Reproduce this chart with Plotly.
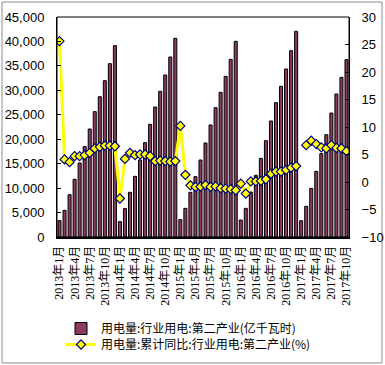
import plotly.graph_objects as go

years = [2013, 2014, 2015, 2016, 2017]
months_per_year = [12, 12, 12, 12, 10]
categories = [f"{y}年{m}月" for y, n in zip(years, months_per_year) for m in range(1, n + 1)]

power_2013 = [3340, 5460, 8660, 11800, 15140, 18480, 22090, 25640, 28700, 31980, 35450, 39140]
power_2014 = [3140, 5800, 9140, 12410, 15750, 19300, 23050, 26590, 29800, 33140, 36820, 40640]
power_2015 = [3550, 5860, 9140, 12340, 15750, 19230, 22910, 26450, 29590, 32860, 36340, 40020]
power_2016 = [3480, 5860, 9200, 12610, 16090, 19700, 23730, 27480, 30820, 34360, 38110, 42070]
power_2017 = [3340, 6270, 9950, 13430, 17050, 20930, 25360, 29250, 32660, 36270]
power = power_2013 + power_2014 + power_2015 + power_2016 + power_2017

yoy_2013 = [25.6, 4.1, 3.6, 4.7, 4.7, 4.9, 5.3, 6.1, 6.4, 6.6, 6.6, 6.5]
yoy_2014 = [-3.0, 4.2, 5.3, 4.9, 5.0, 5.0, 4.7, 3.8, 3.9, 3.8, 3.7, 3.8]
yoy_2015 = [10.2, 1.3, -0.6, -0.9, -0.85, -0.55, -0.9, -0.8, -1.1, -1.2, -1.3, -1.5]
yoy_2016 = [-0.3, -2.1, 0.1, 0.1, 0.2, 0.5, 1.5, 1.9, 1.9, 2.2, 2.6, 2.9]
yoy_2017 = [None, 6.7, 7.5, 6.9, 6.3, 6.1, 6.7, 6.2, 6.1, 5.6]
yoy = yoy_2013 + yoy_2014 + yoy_2015 + yoy_2016 + yoy_2017

tick_labels = categories[::3]

bar_name = "用电量:行业用电:第二产业(亿千瓦时)"
line_name = "用电量:累计同比:行业用电:第二产业(%)"

W, H = 385, 365
L, R, T, B = 57, 36, 17, 128
pw, ph = W - L - R, H - T - B

def px_x(x):
    return (x - L) / pw

def px_y(y):
    return (H - B - y) / ph

fig = go.Figure()
fig.add_trace(go.Bar(
    x=categories, y=power, name=bar_name,
    marker=dict(color="#8B3A62", line=dict(color="#000000", width=1)),
    yaxis="y", legend="legend",
))
fig.add_trace(go.Scatter(
    x=categories, y=yoy, name=line_name, mode="lines+markers",
    connectgaps=False,
    line=dict(color="#FFFF00", width=3),
    marker=dict(symbol="diamond", size=7, color="#FFFF00",
                line=dict(color="#000080", width=1.2)),
    yaxis="y2", legend="legend2",
))

num_font = dict(family="Liberation Sans, Arial, sans-serif", size=13, color="#000000")
leg_font = dict(family="Noto Sans CJK SC, sans-serif", size=12, color="#000000")

fig.update_layout(
    width=W, height=H,
    autosize=False,
    margin=dict(l=L, r=R, t=T, b=B, pad=0, autoexpand=False),
    paper_bgcolor="#FFFFFF",
    plot_bgcolor="#FFFFFF",
    bargap=0.4,
    showlegend=True,
    legend=dict(
        x=px_x(61), y=px_y(314), xanchor="left", yanchor="top",
        font=leg_font, bgcolor="rgba(0,0,0,0)",
    ),
    legend2=dict(
        x=px_x(61), y=px_y(330), xanchor="left", yanchor="top",
        font=leg_font, bgcolor="rgba(0,0,0,0)",
    ),
    xaxis=dict(
        type="category",
        range=[-0.5, len(categories) - 0.5],
        tickmode="array",
        tickvals=tick_labels,
        ticktext=tick_labels,
        tickangle=-90,
        tickfont=dict(family="Liberation Serif, Noto Sans CJK SC, serif", size=12, color="#000000"),
        showgrid=False,
        showline=True, linecolor="#000000", linewidth=2,
        ticks="", zeroline=False,
        ticklabelstandoff=2,
    ),
    yaxis=dict(
        range=[0, 45000], dtick=5000, tickformat=",",
        tickfont=num_font,
        showgrid=False, zeroline=False,
        showline=True, linecolor="#000000", linewidth=1,
        ticks="inside", ticklen=4, tickcolor="#000000",
        ticklabelstandoff=9,
    ),
    yaxis2=dict(
        range=[-10, 30], dtick=5, overlaying="y", side="right",
        tickfont=num_font,
        showgrid=False, zeroline=False,
        showline=True, linecolor="#000000", linewidth=1,
        ticks="inside", ticklen=4, tickcolor="#000000",
        ticklabelstandoff=9,
    ),
    shapes=[
        dict(type="rect", xref="paper", yref="paper", x0=0, x1=1, y0=0, y1=1,
             line=dict(color="#000000", width=1), layer="above"),
        dict(type="rect", xref="paper", yref="paper",
             x0=px_x(2), x1=px_x(382), y0=px_y(363), y1=px_y(2),
             line=dict(color="#8C8C8C", width=1), layer="below"),
    ],
)

fig.write_html("out.html", config={"displayModeBar": False},
               post_script="document.body.style.margin='0';")
